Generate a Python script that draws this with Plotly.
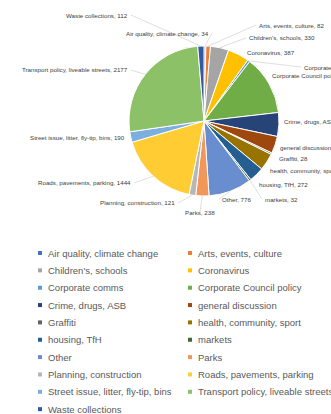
import math
import plotly.graph_objects as go

# Enquiry topics and the number of items logged under each
categories = [
    "Air quality, climate change",
    "Arts, events, culture",
    "Children's, schools",
    "Coronavirus",
    "Corporate comms",
    "Corporate Council policy",
    "Crime, drugs, ASB",
    "general discussion",
    "Graffiti",
    "health, community, sport",
    "housing, TfH",
    "markets",
    "Other",
    "Parks",
    "Planning, construction",
    "Roads, pavements, parking",
    "Street issue, litter, fly-tip, bins",
    "Transport policy, liveable streets",
    "Waste collections",
]
counts = [34, 82, 330, 387, 41, 1070, 430, 310, 28, 310, 272, 32, 776, 238, 121, 1444, 190, 2177, 112]

# Office-style series palette
colors = [
    "#4472C4", "#ED7D31", "#A5A5A5", "#FFC000", "#5B9BD5", "#70AD47",
    "#264478", "#9E480E", "#636363", "#997300", "#255E91", "#43682B",
    "#698ED0", "#F1975A", "#B7B7B7", "#FFCD33", "#7CAFDD", "#8CC168",
    "#335AA1",
]

W, H = 331, 414
CX, CY, R = 204, 121, 75  # pie centre and radius, px

# Data-label placement (px): anchor point and horizontal alignment
label_pos = {
    "Air quality, climate change": (211, 33, "right"),
    "Arts, events, culture": (257, 25, "left"),
    "Children's, schools": (247, 38, "left"),
    "Coronavirus": (245, 52, "left"),
    "Corporate comms": (302, 67, "left"),
    "Corporate Council policy": (270, 75, "left"),
    "Crime, drugs, ASB": (282, 122, "left"),
    "general discussion": (278, 147, "left"),
    "Graffiti": (277, 159, "left"),
    "health, community, sport": (268, 170, "left"),
    "housing, TfH": (257, 184, "left"),
    "markets": (263, 199, "left"),
    "Other": (220, 199, "left"),
    "Parks": (200, 212, "center"),
    "Planning, construction": (177, 203, "right"),
    "Roads, pavements, parking": (133, 183, "right"),
    "Street issue, litter, fly-tip, bins": (127, 137, "right"),
    "Transport policy, liveable streets": (130, 70, "right"),
    "Waste collections": (130, 15, "right"),
}

FONT = "Liberation Sans"
TEXT = "#404040"

fig = go.Figure(
    go.Pie(
        labels=categories,
        values=counts,
        sort=False,
        direction="clockwise",
        rotation=0,
        marker=dict(colors=colors, line=dict(color="white", width=1)),
        textinfo="none",
        hoverinfo="label+value",
        showlegend=False,
        domain=dict(x=[(CX - R) / W, (CX + R) / W], y=[1 - (CY + R) / H, 1 - (CY - R) / H]),
    )
)

total = sum(counts)
annotations = []
shapes = []
cum = 0
for name, v in zip(categories, counts):
    mid = (cum + v / 2) / total * 2 * math.pi
    cum += v
    ex = CX + R * math.sin(mid)
    ey = CY - R * math.cos(mid)
    lx, ly, anchor = label_pos[name]
    annotations.append(dict(
        x=lx / W, y=1 - ly / H, xref="paper", yref="paper",
        text=f"{name}, {v}", showarrow=False,
        xanchor=anchor, yanchor="middle",
        font=dict(family=FONT, size=6.2, color=TEXT),
    ))
    # leader line from the label to the slice edge when the label sits away from it
    sx = lx - 1 if anchor == "left" else (lx + 1 if anchor == "right" else lx)
    sy = ly
    if math.hypot(ex - sx, ey - sy) > 12:
        shapes.append(dict(
            type="line", xref="paper", yref="paper",
            x0=sx / W, y0=1 - sy / H, x1=ex / W, y1=1 - ey / H,
            line=dict(color="#C8C8C8", width=0.6),
        ))

# Two-column legend below the pie
LEG_X0, LEG_COL_W = 38, 150   # px
LEG_Y0, LEG_ROW_H = 253, 17.35
SQ = 4
for i, (name, col) in enumerate(zip(categories, colors)):
    row, c = divmod(i, 2)
    mx = LEG_X0 + c * LEG_COL_W
    my = LEG_Y0 + row * LEG_ROW_H
    shapes.append(dict(
        type="rect", xref="paper", yref="paper",
        x0=mx / W, x1=(mx + SQ) / W,
        y0=1 - (my + SQ / 2) / H, y1=1 - (my - SQ / 2) / H,
        fillcolor=col, line=dict(width=0),
    ))
    annotations.append(dict(
        x=(mx + SQ + 4) / W, y=1 - my / H, xref="paper", yref="paper",
        text=name, showarrow=False, xanchor="left", yanchor="middle",
        font=dict(family=FONT, size=9.5, color="#595959"),
    ))

fig.update_layout(
    width=W, height=H,
    margin=dict(l=0, r=0, t=0, b=0),
    paper_bgcolor="white",
    plot_bgcolor="white",
    annotations=annotations,
    shapes=shapes,
    showlegend=False,
)

fig.write_html("out.html")
